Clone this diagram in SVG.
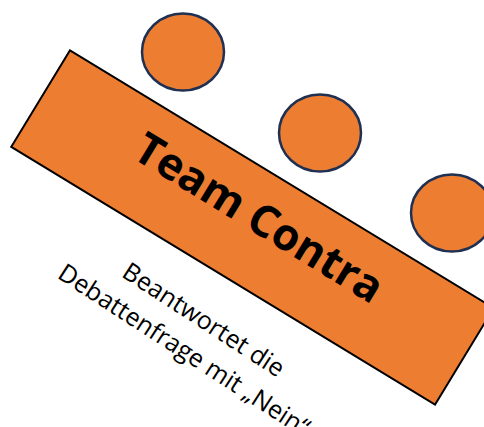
<svg xmlns="http://www.w3.org/2000/svg" width="484" height="427" viewBox="0 0 484 427">
<style>
.bar{fill:#ED7D31;stroke:#000;stroke-width:2}
.dot{fill:#ED7D31;stroke:#1F3052;stroke-width:2.5}
.title{font-family:"Open Sans","Liberation Sans",sans-serif;font-weight:bold;font-size:44px;fill:#000}
.sub{font-family:"Open Sans","Liberation Sans",sans-serif;font-size:25px;fill:#000}
</style>
<rect width="484" height="427" fill="#fff"/>
<g id="team-contra">
<rect class="bar" x="-248" y="-56.5" width="496" height="113" transform="translate(252.5,227.5) rotate(31.3)"/>
<text class="title" text-anchor="middle" transform="translate(259,218) rotate(31.5)" y="15">Team Contra</text>
</g>
<g id="member-1"><ellipse class="dot" cx="183" cy="52" rx="41" ry="38.5"/></g>
<g id="member-2"><ellipse class="dot" cx="320" cy="133" rx="41" ry="38.5"/></g>
<g id="member-3"><ellipse class="dot" cx="452" cy="213" rx="41" ry="38.5"/></g>
<g id="description">
<text class="sub" text-anchor="middle" transform="translate(199,327) rotate(33)"><tspan x="0" y="0">Beantwortet die</tspan><tspan x="0" y="36">Debattenfrage mit „Nein“</tspan></text>
</g>
</svg>
